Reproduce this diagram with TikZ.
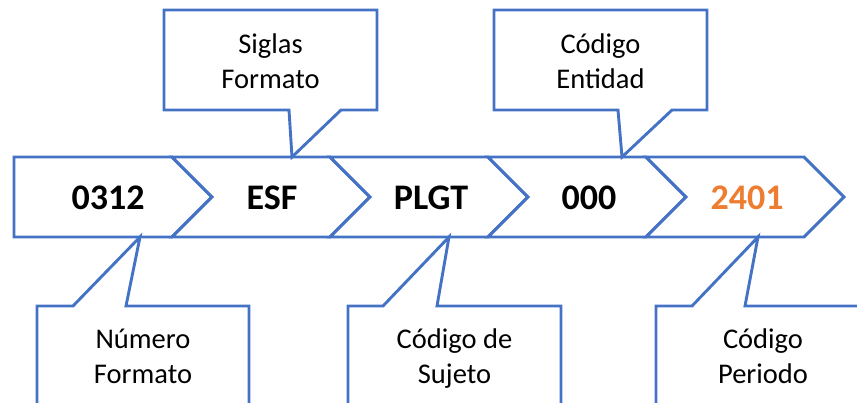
\documentclass[tikz,border=0pt]{standalone}
\usepackage{fontspec}
\setmainfont{Carlito}
\definecolor{blu}{HTML}{4472C4}
\definecolor{org}{HTML}{ED7D31}
\begin{document}
\begin{tikzpicture}[x=1pt,y=-1pt,
  shp/.style={draw=blu, line width=2.9pt, line join=miter, fill=white},
  big/.style={font=\fontsize{36}{40}\selectfont\bfseries, anchor=base, inner sep=0pt},
  lbl/.style={font=\fontsize{28.5}{35}\selectfont, anchor=base, inner sep=0pt}]
\useasboundingbox (0,0) rectangle (857,402);
\clip (0,0) rectangle (857,402);
% chevrons
\draw[shp] (14,157) -- (172,157) -- (212,197) -- (172,237) -- (14,237) -- cycle;
\foreach \x in {172,330,488,646}{
  \draw[shp] (\x,157) -- ({\x+158},157) -- ({\x+198},197) -- ({\x+158},237) -- (\x,237) -- ({\x+40},197) -- cycle;
}
\node[big] (c1) at (108,209) {0312};
\node[big] (c2) at (272,209) {ESF};
\node[big] (c3) at (431,209) {PLGT};
\node[big] (c4) at (589,209) {000};
\node[big, text=org] (c5) at (747,209) {2401};
% top callouts
\coordinate (t1) at (292,157);
\draw[shp] (164,10) -- (377,10) -- (377,110) -- (341,110) -- (t1) -- (289,110) -- (164,110) -- cycle;
\node[lbl] (s1) at (270.5,53) {Siglas};
\node[lbl] (s2) at (270.5,88) {Formato};
\coordinate (t2) at (622,157);
\draw[shp] (494,10) -- (707,10) -- (707,110) -- (672,110) -- (t2) -- (618,110) -- (494,110) -- cycle;
\node[lbl] (e1) at (600.5,53) {Código};
\node[lbl] (e2) at (600.5,88) {Entidad};
% bottom callouts
\coordinate (b1) at (140,237);
\draw[shp] (37,306) -- (73,306) -- (b1) -- (126,306) -- (249,306) -- (249,420) -- (37,420) -- cycle;
\node[lbl] (n1) at (143,348) {Número};
\node[lbl] (n2) at (143,383) {Formato};
\coordinate (b2) at (449,237);
\draw[shp] (348,306) -- (383,306) -- (b2) -- (437,306) -- (561,306) -- (561,420) -- (348,420) -- cycle;
\node[lbl] (j1) at (454.5,348) {Código de};
\node[lbl] (j2) at (454.5,383) {Sujeto};
\coordinate (b3) at (758,237);
\draw[shp] (656,306) -- (692,306) -- (b3) -- (745,306) -- (870,306) -- (870,420) -- (656,420) -- cycle;
\node[lbl] (p1) at (763,348) {Código};
\node[lbl] (p2) at (763,383) {Periodo};
\end{tikzpicture}
\end{document}
